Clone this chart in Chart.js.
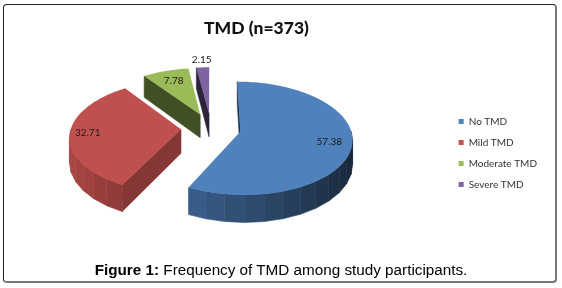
<!DOCTYPE html>
<html>
<head>
<meta charset="utf-8">
<style>
    html, body { margin: 0; padding: 0; background: #fff; }
    #frame {
        position: absolute; left: 3px; top: 4px; width: 551px; height: 276px;
        border: 1px solid #222; border-right: 2px solid #777; border-bottom: 2px solid #777;
        border-radius: 4px;
    }
    #chart { position: absolute; left: 0; top: 0; }
    #caption {
        position: absolute; left: 0; top: 261px; width: 562px; text-align: center;
        font: 15.25px "Liberation Sans", Arial, sans-serif; color: #000; white-space: nowrap;
    }
</style>
<script src="https://cdn.jsdelivr.net/npm/chart.js@4"></script>
</head>
<body>
<div id="frame"></div>
<canvas id="chart" width="562" height="288"></canvas>
<div id="caption"><b>Figure 1:</b> Frequency of TMD among study participants.</div>
<script>
const categories = ['No TMD', 'Mild TMD', 'Moderate TMD', 'Severe TMD'];
const percents = [57.38, 32.71, 7.78, 2.15];
const colors = ['#4f81bd', '#c0504d', '#9bbb59', '#8064a2'];
const chartTitle = 'TMD (n=373)';

// Perspective view of the pie plane, fitted to the reference
const view = { x: 211, y: 128, rx: 110, ry: 55, tilt: 0.12, depth: 24 };
const edgeShades = [0.42, 0.69, 0.42, 0.35];
const labelReach = [0.8, 0.84, 0.75, 1.2];

function project(u, v, drop) {
    const k = 1 / (1 - view.tilt * v);
    return {
        x: view.x + view.rx * u * k,
        y: view.y + view.ry * v * k + (drop ? view.depth * k : 0)
    };
}

function shade(hex, f) {
    const n = parseInt(hex.slice(1), 16);
    const c = [n >> 16, (n >> 8) & 255, n & 255].map(a => Math.round(a * f));
    return `rgb(${c[0]},${c[1]},${c[2]})`;
}

function fillPoly(ctx, pts, color, seam) {
    ctx.beginPath();
    pts.forEach((p, i) => i ? ctx.lineTo(p.x, p.y) : ctx.moveTo(p.x, p.y));
    ctx.closePath();
    ctx.fillStyle = color;
    ctx.fill();
    if (seam) {
        ctx.strokeStyle = color;
        ctx.lineWidth = 0.6;
        ctx.stroke();
    }
}

/**
 * Arc element that draws its slice as an extruded wedge
 */
class Arc3D extends Chart.ArcElement {
    static id = 'arc3d';

    draw(ctx) {
        const { startAngle, endAngle } = this.getProps(['startAngle', 'endAngle']);
        const color = this.options.backgroundColor;
        const index = this.$context.index;
        const mid = (startAngle + endAngle) / 2;
        const ox = Math.cos(mid) * this.options.offset / view.rx;
        const oy = Math.sin(mid) * this.options.offset / view.rx;
        const rim = a => [ox + Math.cos(a), oy + Math.sin(a)];

        // flat side walls, only those facing the viewer
        const wall = a => {
            const [u, v] = rim(a);
            fillPoly(ctx, [project(ox, oy), project(u, v), project(u, v, true), project(ox, oy, true)],
                shade(color, edgeShades[index]), true);
        };
        if (Math.cos(endAngle) > 0.01) wall(endAngle);
        if (Math.cos(startAngle) < 0.01) wall(startAngle);

        // curved outer wall in bands, darker to the right
        const band = 9 * Math.PI / 180;
        for (let a = startAngle; a < endAngle; a += band) {
            const b = Math.min(a + band, endAngle);
            if (Math.sin((a + b) / 2) <= 0) continue;
            const [u1, v1] = rim(a);
            const [u2, v2] = rim(b);
            const f = 0.6 - 0.3 * Math.cos((a + b) / 2);
            fillPoly(ctx, [project(u1, v1), project(u2, v2), project(u2, v2, true), project(u1, v1, true)],
                shade(color, f), true);
        }

        // top face
        const top = [project(ox, oy)];
        const steps = Math.ceil((endAngle - startAngle) / 0.03);
        for (let i = 0; i <= steps; i++) {
            const [u, v] = rim(startAngle + (endAngle - startAngle) * i / steps);
            top.push(project(u, v));
        }
        fillPoly(ctx, top, color, false);
    }
}

class Pie3DController extends Chart.DoughnutController {
    static id = 'pie3d';
    static defaults = { dataElementType: 'arc3d' };
}

Chart.register(Arc3D, Pie3DController);

// Value labels sit on the top face, or beyond it for the thin slice
const valueLabels = {
    id: 'valueLabels',
    afterDatasetsDraw(chart) {
        const ctx = chart.ctx;
        ctx.save();
        ctx.font = '10px Lato';
        ctx.fillStyle = '#1a1a1a';
        ctx.textAlign = 'center';
        ctx.textBaseline = 'middle';
        chart.getDatasetMeta(0).data.forEach((arc, i) => {
            const mid = (arc.startAngle + arc.endAngle) / 2;
            const off = arc.options.offset / view.rx + labelReach[i];
            const p = project(Math.cos(mid) * off, Math.sin(mid) * off);
            ctx.fillText(percents[i].toFixed(2), p.x, p.y);
        });
        ctx.restore();
    }
};

new Chart(document.getElementById('chart'), {
    type: 'pie3d',
    data: {
        labels: categories,
        datasets: [{
            data: percents,
            backgroundColor: colors,
            offset: 30,
            borderWidth: 0
        }]
    },
    options: {
        responsive: false,
        animation: false,
        layout: { padding: { left: 204, right: 15, top: 18, bottom: 0 } },
        plugins: {
            title: {
                display: true,
                text: chartTitle,
                align: 'start',
                color: '#111',
                font: { family: 'Lato', size: 17.5, weight: '900' },
                padding: { top: 0, bottom: 4 }
            },
            legend: {
                position: 'right',
                labels: {
                    boxWidth: 5,
                    boxHeight: 5,
                    padding: 11,
                    color: '#333',
                    font: { family: 'Lato', size: 10 }
                }
            },
            tooltip: { enabled: false }
        }
    },
    plugins: [valueLabels]
});
</script>
</body>
</html>
